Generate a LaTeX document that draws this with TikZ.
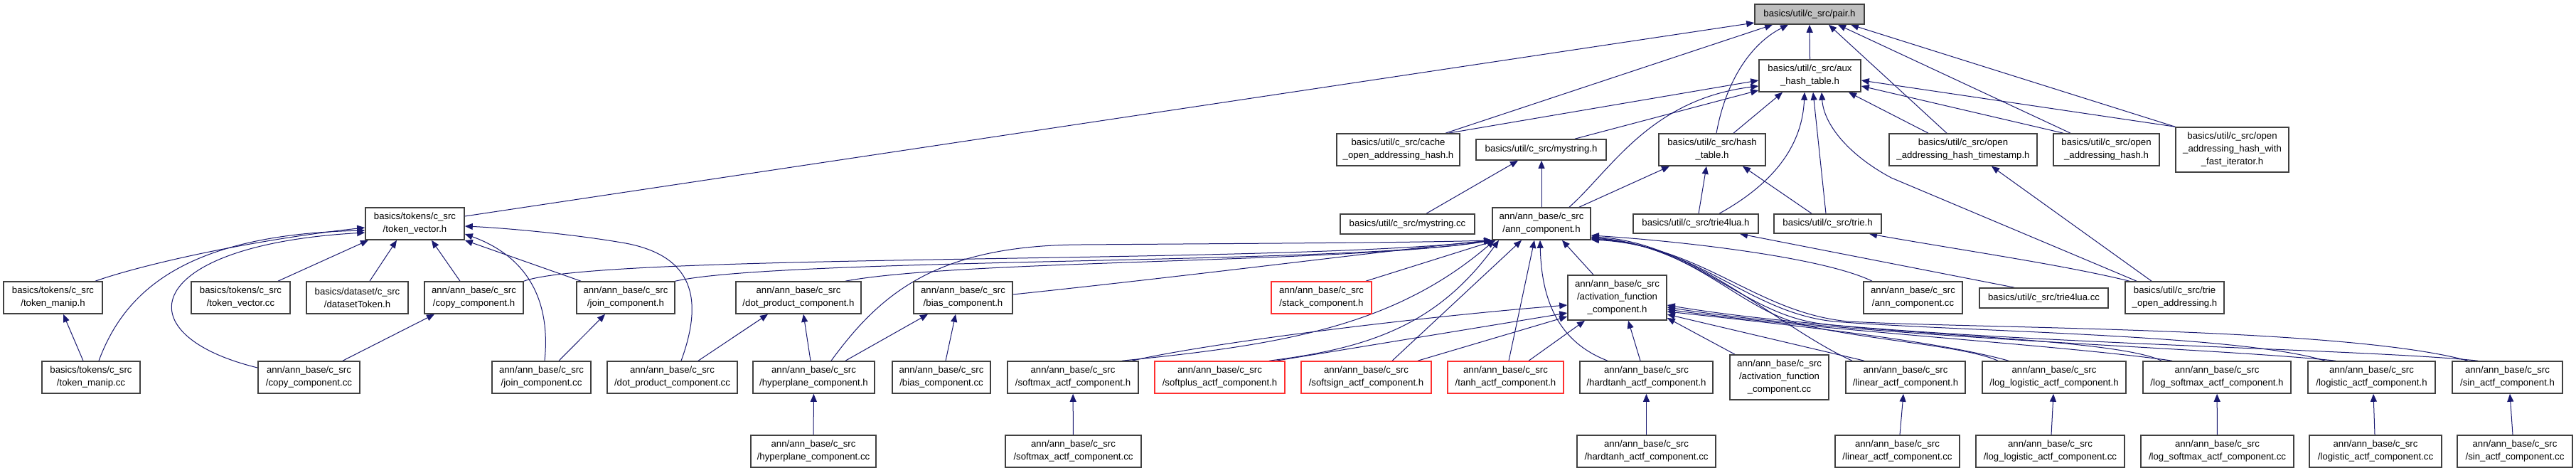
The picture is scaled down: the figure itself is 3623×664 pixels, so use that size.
\documentclass[tikz,border=0pt]{standalone}
\usepackage{fontspec}
\setmainfont{Liberation Sans}
\usetikzlibrary{arrows.meta}
\pgfdeclarelayer{bg}
\pgfsetlayers{bg,main}
\definecolor{edgeblue}{HTML}{191970}
\definecolor{boxgray}{HTML}{404040}
\definecolor{boxred}{HTML}{FF3030}
\definecolor{pairfill}{HTML}{BFBFBF}
\begin{document}
\begin{tikzpicture}[x=1pt,y=-1pt,
  box/.style={draw=boxgray, line width=1.6pt, fill=white, inner sep=0pt, align=center,
    font=\fontsize{13.2}{18}\selectfont, text=black},
  redbox/.style={box, draw=boxred},
  e/.style={draw=edgeblue, line width=1.0pt, -{Triangle[length=11pt,width=9pt]}}]
\useasboundingbox (0,0) rectangle (3623,664);
% row 0-2
\node[box, fill=pairfill, minimum width=154pt, minimum height=28pt] (pair) at (2545,20) {basics/util/c\_src/pair.h};
\node[box, minimum width=143pt, minimum height=45pt] (aux) at (2545.5,106.5) {basics/util/c\_src/aux\\\_hash\_table.h};
\node[box, minimum width=173pt, minimum height=45pt] (cache) at (1966.5,210.5) {basics/util/c\_src/cache\\\_open\_addressing\_hash.h};
\node[box, minimum width=183pt, minimum height=29pt] (mystrh) at (2167.5,210.5) {basics/util/c\_src/mystring.h};
\node[box, minimum width=150pt, minimum height=45pt] (hasht) at (2408,210.5) {basics/util/c\_src/hash\\\_table.h};
\node[box, minimum width=208pt, minimum height=45pt] (tstamp) at (2761,210.5) {basics/util/c\_src/open\\\_addressing\_hash\_timestamp.h};
\node[box, minimum width=149pt, minimum height=45pt] (oah) at (2962.5,210.5) {basics/util/c\_src/open\\\_addressing\_hash.h};
\node[box, minimum width=159pt, minimum height=63pt] (fastit) at (3139.5,210.5) {basics/util/c\_src/open\\\_addressing\_hash\_with\\\_fast\_iterator.h};
\node[box, minimum width=139pt, minimum height=45pt] (tokvec) at (583.5,314.5) {basics/tokens/c\_src\\/token\_vector.h};
\node[box, minimum width=189pt, minimum height=28pt] (mystrcc) at (1979.5,315) {basics/util/c\_src/mystring.cc};
\node[box, minimum width=138pt, minimum height=45pt] (annh) at (2168,314.5) {ann/ann\_base/c\_src\\/ann\_component.h};
\node[box, minimum width=176pt, minimum height=27pt] (trie4luah) at (2385,314.5) {basics/util/c\_src/trie4lua.h};
\node[box, minimum width=151pt, minimum height=27pt] (trieh) at (2570.5,314.5) {basics/util/c\_src/trie.h};
% row 3
\node[box, minimum width=139pt, minimum height=45pt] (tokmaniph) at (74.5,418.5) {basics/tokens/c\_src\\/token\_manip.h};
\node[box, minimum width=139pt, minimum height=45pt] (tokveccc) at (338.5,418.5) {basics/tokens/c\_src\\/token\_vector.cc};
\node[box, minimum width=143pt, minimum height=45pt] (dstok) at (502.5,418.5) {basics/dataset/c\_src\\/datasetToken.h};
\node[box, minimum width=139pt, minimum height=45pt] (copyh) at (666.5,418.5) {ann/ann\_base/c\_src\\/copy\_component.h};
\node[box, minimum width=138pt, minimum height=45pt] (joinh) at (880,418.5) {ann/ann\_base/c\_src\\/join\_component.h};
\node[box, minimum width=176pt, minimum height=45pt] (doth) at (1123,418.5) {ann/ann\_base/c\_src\\/dot\_product\_component.h};
\node[box, minimum width=139pt, minimum height=45pt] (biash) at (1354.5,418.5) {ann/ann\_base/c\_src\\/bias\_component.h};
\node[redbox, minimum width=141pt, minimum height=45pt] (stackh) at (1858.5,418.5) {ann/ann\_base/c\_src\\/stack\_component.h};
\node[box, minimum width=139pt, minimum height=63pt] (acth) at (2274.5,418.5) {ann/ann\_base/c\_src\\/activation\_function\\\_component.h};
\node[box, minimum width=139pt, minimum height=45pt] (anncc) at (2690.5,418.5) {ann/ann\_base/c\_src\\/ann\_component.cc};
\node[box, minimum width=181pt, minimum height=28pt] (trie4luacc) at (2874.5,419) {basics/util/c\_src/trie4lua.cc};
\node[box, minimum width=139pt, minimum height=45pt] (trieoa) at (3058.5,418.5) {basics/util/c\_src/trie\\\_open\_addressing.h};
% row 4
\node[box, minimum width=138pt, minimum height=45pt] (tokmanipcc) at (128,530.5) {basics/tokens/c\_src\\/token\_manip.cc};
\node[box, minimum width=143pt, minimum height=45pt] (copycc) at (434.5,530.5) {ann/ann\_base/c\_src\\/copy\_component.cc};
\node[box, minimum width=139pt, minimum height=45pt] (joincc) at (761.5,530.5) {ann/ann\_base/c\_src\\/join\_component.cc};
\node[box, minimum width=183pt, minimum height=45pt] (dotcc) at (945.5,530.5) {ann/ann\_base/c\_src\\/dot\_product\_component.cc};
\node[box, minimum width=171pt, minimum height=45pt] (hyperh) at (1144.5,530.5) {ann/ann\_base/c\_src\\/hyperplane\_component.h};
\node[box, minimum width=138pt, minimum height=45pt] (biascc) at (1324,530.5) {ann/ann\_base/c\_src\\/bias\_component.cc};
\node[box, minimum width=184pt, minimum height=45pt] (softmaxh) at (1509,530.5) {ann/ann\_base/c\_src\\/softmax\_actf\_component.h};
\node[redbox, minimum width=183pt, minimum height=45pt] (softplush) at (1715.5,530.5) {ann/ann\_base/c\_src\\/softplus\_actf\_component.h};
\node[redbox, minimum width=183pt, minimum height=45pt] (softsignh) at (1921.5,530.5) {ann/ann\_base/c\_src\\/softsign\_actf\_component.h};
\node[redbox, minimum width=163pt, minimum height=45pt] (tanhh) at (2117.5,530.5) {ann/ann\_base/c\_src\\/tanh\_actf\_component.h};
\node[box, minimum width=187pt, minimum height=45pt] (hardtanhh) at (2315.5,530.5) {ann/ann\_base/c\_src\\/hardtanh\_actf\_component.h};
\node[box, minimum width=139pt, minimum height=63pt] (actcc) at (2502.5,530.5) {ann/ann\_base/c\_src\\/activation\_function\\\_component.cc};
\node[box, minimum width=168pt, minimum height=45pt] (linearh) at (2680,530.5) {ann/ann\_base/c\_src\\/linear\_actf\_component.h};
\node[box, minimum width=202pt, minimum height=45pt] (loglogh) at (2889,530.5) {ann/ann\_base/c\_src\\/log\_logistic\_actf\_component.h};
\node[box, minimum width=208pt, minimum height=45pt] (logsofth) at (3118,530.5) {ann/ann\_base/c\_src\\/log\_softmax\_actf\_component.h};
\node[box, minimum width=179pt, minimum height=45pt] (logistich) at (3335.5,530.5) {ann/ann\_base/c\_src\\/logistic\_actf\_component.h};
\node[box, minimum width=155pt, minimum height=45pt] (sinh) at (3526.5,530.5) {ann/ann\_base/c\_src\\/sin\_actf\_component.h};
% row 5
\node[box, minimum width=176pt, minimum height=45pt] (hypercc) at (1144,634.5) {ann/ann\_base/c\_src\\/hyperplane\_component.cc};
\node[box, minimum width=191pt, minimum height=45pt] (softmaxcc) at (1509.5,634.5) {ann/ann\_base/c\_src\\/softmax\_actf\_component.cc};
\node[box, minimum width=195pt, minimum height=45pt] (hardtanhcc) at (2315.5,634.5) {ann/ann\_base/c\_src\\/hardtanh\_actf\_component.cc};
\node[box, minimum width=175pt, minimum height=45pt] (linearcc) at (2668.5,634.5) {ann/ann\_base/c\_src\\/linear\_actf\_component.cc};
\node[box, minimum width=209pt, minimum height=45pt] (loglogcc) at (2883.5,634.5) {ann/ann\_base/c\_src\\/log\_logistic\_actf\_component.cc};
\node[box, minimum width=215pt, minimum height=45pt] (logsoftcc) at (3118.5,634.5) {ann/ann\_base/c\_src\\/log\_softmax\_actf\_component.cc};
\node[box, minimum width=186pt, minimum height=45pt] (logisticcc) at (3341,634.5) {ann/ann\_base/c\_src\\/logistic\_actf\_component.cc};
\node[box, minimum width=162pt, minimum height=45pt] (sincc) at (3537,634.5) {ann/ann\_base/c\_src\\/sin\_actf\_component.cc};

\begin{pgfonlayer}{bg}
\fill[white] (0,0) rectangle (3623,664);
% to pair.h
\draw[e] (tokvec.east |- 0,304) -- (pair.west |- 0,32);
\draw[e] (cache.north -| 2033,0) -- (pair.south -| 2493,0);
\draw[e] (hasht.north -| 2414,0) .. controls (2428,110) and (2465,60) .. (pair.south -| 2515,0);
\draw[e] (aux.north) -- (pair.south);
\draw[e] (tstamp.north -| 2738,0) -- (pair.south -| 2572,0);
\draw[e] (oah.north -| 2912,0) -- (pair.south -| 2585,0);
\draw[e] (fastit.north west) -- (pair.south -| 2603,0);
% to aux_hash_table.h
\draw[e] (cache.north -| 2037,0) -- (aux.west |- 0,113);
\draw[e] (annh.north -| 2207,0) .. controls (2265,240) and (2320,140) .. (aux.west |- 0,121);
\draw[e] (mystrh.north -| 2215,0) -- (aux.west |- 0,127);
\draw[e] (hasht.north -| 2438,0) -- (aux.south -| 2507,0);
\draw[e] (trie4luah.north -| 2418,0) .. controls (2500,255) and (2535,200) .. (aux.south -| 2538,0);
\draw[e] (trieh.north -| 2568,0) -- (aux.south -| 2550,0);
\draw[e] (trieoa.north -| 3005,0) -- (2660,250) .. controls (2600,218) and (2565,175) .. (aux.south -| 2562,0);
\draw[e] (tstamp.north -| 2712,0) -- (aux.south -| 2600,0);
\draw[e] (oah.north -| 2902,0) -- (aux.east |- 0,121);
\draw[e] (fastit.north west) -- (aux.east |- 0,113);
% to hash_table.h
\draw[e] (annh.north -| 2221,0) -- (hasht.south -| 2348,0);
\draw[e] (trie4luah.north -| 2389,0) -- (hasht.south -| 2400,0);
\draw[e] (trieh.north -| 2548,0) -- (hasht.south -| 2451,0);
% to mystring.h
\draw[e] (mystrcc.north -| 2006,0) -- (mystrh.south -| 2135,0);
\draw[e] (annh.north -| 2168,0) -- (mystrh.south -| 2168,0);
% trie4lua, trie, timestamp
\draw[e] (trie4luacc.north -| 2833,0) -- (trie4luah.south -| 2447,0);
\draw[e] (trieoa.north -| 2995,0) .. controls (2900,372) and (2760,352) .. (trieh.south -| 2629,0);
\draw[e] (trieoa.north -| 3026,0) -- (tstamp.south -| 2801,0);
% to token_vector.h
\draw[e] (tokmaniph.north -| 134,0) .. controls (200,372) and (350,338) .. (tokvec.west |- 0,320);
\draw[e] (tokmanipcc.north -| 139,0) .. controls (175,410) and (260,330) .. (tokvec.west |- 0,324);
\draw[e] (copycc.west |- 0,517) .. controls (170,470) and (200,345) .. (tokvec.west |- 0,327);
\draw[e] (tokveccc.north -| 391,0) -- (tokvec.south -| 518,0);
\draw[e] (dstok.north -| 520,0) -- (tokvec.south -| 558,0);
\draw[e] (copyh.north -| 647,0) -- (tokvec.south -| 607,0);
\draw[e] (joinh.north -| 817,0) -- (tokvec.south east);
\draw[e] (joincc.north -| 766,0) .. controls (775,420) and (740,360) .. (tokvec.east |- 0,329);
\draw[e] (dotcc.north -| 958,0) .. controls (990,420) and (975,360) .. (880,342) .. controls (800,328) and (700,320) .. (tokvec.east |- 0,318);
% small local edges
\draw[e] (copycc.north -| 482,0) -- (copyh.south -| 611,0);
\draw[e] (tokmanipcc.north -| 117,0) -- (tokmaniph.south -| 89,0);
\draw[e] (joincc.north -| 786,0) -- (joinh.south -| 851,0);
\draw[e] (dotcc.north -| 982,0) -- (doth.south -| 1080,0);
\draw[e] (hyperh.north -| 1140,0) -- (doth.south -| 1130,0);
\draw[e] (hyperh.north -| 1189,0) -- (biash.south -| 1305,0);
\draw[e] (biascc.north -| 1330,0) -- (biash.south -| 1344,0);
\draw[e] (hypercc) -- (hyperh);
\draw[e] (softmaxcc) -- (softmaxh);
\draw[e] (hardtanhcc) -- (hardtanhh);
\draw[e] (linearcc.north -| 2672,0) -- (linearh.south -| 2677,0);
\draw[e] (loglogcc.north -| 2885,0) -- (loglogh.south -| 2888,0);
\draw[e] (logsoftcc) -- (logsofth);
\draw[e] (logisticcc.north -| 3340,0) -- (logistich.south -| 3338,0);
\draw[e] (sincc.north -| 3534,0) -- (sinh.south -| 3530,0);
% to ann_component.h from the left
\draw[e] (copyh.north east) .. controls (850,355) and (1800,372) .. (annh.south west);
\draw[e] (joinh.north east) .. controls (1100,362) and (1900,372) .. (annh.south west);
\draw[e] (doth.north -| 1189,0) .. controls (1350,365) and (1900,370) .. (annh.south west);
\draw[e] (hyperh.north -| 1169,0) .. controls (1240,410) and (1320,345) .. (1520,344) .. controls (1800,342) and (2000,341) .. (annh.south west);
\draw[e] (biash.east |- 0,414) .. controls (1700,385) and (1950,352) .. (annh.south west);
\draw[e] (stackh.north -| 1921,0) -- (annh.south -| 2104,0);
\draw[e] (softmaxh.north -| 1578,0) .. controls (1800,485) and (1960,460) .. (annh.south -| 2102,0);
\draw[e] (softplush.north -| 1785,0) .. controls (1920,490) and (2020,460) .. (annh.south -| 2108,0);
\draw[e] (softsignh.north -| 1958,0) -- (annh.south -| 2140,0);
\draw[e] (tanhh.north -| 2122,0) -- (annh.south -| 2158,0);
\draw[e] (hardtanhh.north -| 2261,0) .. controls (2190,480) and (2168,420) .. (annh.south -| 2166,0);
\draw[e] (acth.north -| 2241,0) -- (annh.south -| 2197,0);
% to ann_component.h from the right
\draw[e] (anncc.north -| 2633,0) .. controls (2560,360) and (2350,338) .. (annh.east |- 0,331);
\draw[e] (linearh.north -| 2605,0) .. controls (2500,460) and (2380,340) .. (annh.east |- 0,333);
\draw[e] (loglogh.north -| 2810,0) .. controls (2760,485) and (2620,478) .. (2530,455) .. controls (2440,430) and (2380,345) .. (annh.east |- 0,334);
\draw[e] (logsofth.north -| 3040,0) .. controls (2980,478) and (2700,472) .. (2560,455) .. controls (2450,440) and (2385,345) .. (annh.east |- 0,335);
\draw[e] (logistich.north -| 3270,0) .. controls (3150,470) and (2750,466) .. (2580,452) .. controls (2460,440) and (2390,345) .. (annh.east |- 0,336);
\draw[e] (sinh.north -| 3471,0) .. controls (3300,460) and (2780,462) .. (2600,452) .. controls (2470,440) and (2395,345) .. (annh.east |- 0,337);
% to activation_function_component.h
\draw[e] (softmaxh.north -| 1592,0) .. controls (1700,482) and (2000,445) .. (acth.west |- 0,429);
\draw[e] (softplush.north -| 1795,0) -- (acth.west |- 0,440);
\draw[e] (softsignh.north -| 1994,0) -- (acth.west |- 0,445);
\draw[e] (tanhh.north -| 2150,0) -- (acth.south -| 2229,0);
\draw[e] (hardtanhh.north -| 2307,0) -- (acth.south -| 2290,0);
\draw[e] (actcc.north -| 2440,0) -- (acth.east |- 0,447);
\draw[e] (linearh.north -| 2622,0) -- (acth.east |- 0,442);
\draw[e] (loglogh.north -| 2825,0) .. controls (2720,478) and (2500,455) .. (acth.east |- 0,438);
\draw[e] (logsofth.north -| 3055,0) .. controls (2900,485) and (2560,465) .. (acth.east |- 0,435);
\draw[e] (logistich.north -| 3285,0) .. controls (3100,488) and (2620,475) .. (acth.east |- 0,432);
\draw[e] (sinh.north -| 3485,0) .. controls (3300,488) and (2660,482) .. (acth.east |- 0,429);
\end{pgfonlayer}
\end{tikzpicture}
\end{document}
